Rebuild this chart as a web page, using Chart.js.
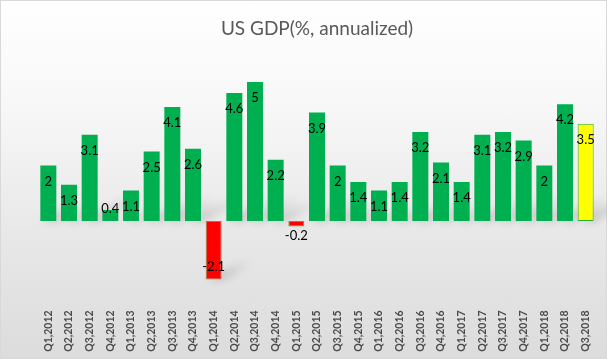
<!DOCTYPE html>
<html>
<head>
<meta charset="utf-8">
<script src="https://cdn.jsdelivr.net/npm/chart.js@4/dist/chart.umd.min.js"></script>
<style>
  html, body { margin: 0; padding: 0; }
  #wrap {
    position: relative; width: 607px; height: 359px; box-sizing: border-box;
    border: 1px solid #d9d9d9;
    background: linear-gradient(to bottom, #ffffff 0%, #f7f7f7 30%, #e8e8e8 65%, #dcdcdc 100%);
  }
  canvas { position: absolute; left: -1px; top: -1px; }
</style>
</head>
<body>
<div id="wrap"><canvas id="c" width="607" height="359"></canvas></div>
<script>
const quarters = ["Q1,2012","Q2,2012","Q3,2012","Q4,2012","Q1,2013","Q2,2013","Q3,2013","Q4,2013",
  "Q1,2014","Q2,2014","Q3,2014","Q4,2014","Q1,2015","Q2,2015","Q3,2015","Q4,2015",
  "Q1,2016","Q2,2016","Q3,2016","Q4,2016","Q1,2017","Q2,2017","Q3,2017","Q4,2017",
  "Q1,2018","Q2,2018","Q3,2018"];
const gdpGrowth = [2, 1.3, 3.1, 0.4, 1.1, 2.5, 4.1, 2.6,
  -2.1, 4.6, 5, 2.2, -0.2, 3.9, 2, 1.4,
  1.1, 1.4, 3.2, 2.1, 1.4, 3.1, 3.2, 2.9,
  2, 4.2, 3.5];
const chartTitle = "US GDP(%, annualized)";

const GREEN = "#00b050", RED = "#ff0000", YELLOW = "#ffff00";
const lastIdx = gdpGrowth.length - 1;
const fillColors = gdpGrowth.map((v, i) => i === lastIdx ? YELLOW : (v < 0 ? RED : GREEN));
const borderColors = gdpGrowth.map((v, i) => i === lastIdx ? "#2eaa3c" : (v < 0 ? "#76923c" : GREEN));
const borderWidths = gdpGrowth.map((v, i) => (i === lastIdx || v < 0) ? 1 : 0);

const shadowPlugin = {
  id: "shadows",
  beforeDatasetsDraw(chart) {
    const ctx = chart.ctx;
    const meta = chart.getDatasetMeta(0);
    ctx.save();
    ctx.filter = "blur(4px)";
    meta.data.forEach((bar, i) => {
      const half = bar.width / 2;
      const bottom = Math.max(bar.y, bar.base);
      const h = Math.abs(bar.base - bar.y);
      const sh = Math.min(h * 0.28, 22);
      const sx = Math.min(h * 0.55, 40);
      const g = ctx.createLinearGradient(0, bottom, 0, bottom - sh);
      g.addColorStop(0, "rgba(0,0,0,0.24)");
      g.addColorStop(1, "rgba(0,0,0,0.02)");
      ctx.fillStyle = g;
      ctx.beginPath();
      ctx.moveTo(bar.x - half + 2, bottom);
      ctx.lineTo(bar.x + half, bottom);
      ctx.lineTo(bar.x + half + sx, bottom - sh);
      ctx.lineTo(bar.x - half + sx + 2, bottom - sh);
      ctx.closePath();
      ctx.fill();
    });
    ctx.restore();
  }
};

const labelPlugin = {
  id: "valueLabels",
  afterDatasetsDraw(chart) {
    const ctx = chart.ctx;
    const meta = chart.getDatasetMeta(0);
    ctx.save();
    ctx.font = "13px Lato";
    ctx.fillStyle = "#000000";
    ctx.textAlign = "center";
    ctx.textBaseline = "middle";
    meta.data.forEach((bar, i) => {
      const v = gdpGrowth[i];
      let y;
      if (v >= 0) y = Math.min(bar.y + 16, bar.base - 12);
      else y = Math.max(bar.y - 13, bar.base + 15);
      ctx.fillText(String(v), bar.x, y);
    });
    ctx.restore();
  }
};

new Chart(document.getElementById("c"), {
  type: "bar",
  data: {
    labels: quarters,
    datasets: [{
      data: gdpGrowth,
      backgroundColor: fillColors,
      borderColor: borderColors,
      borderWidth: borderWidths,
      borderSkipped: false,
      barPercentage: 0.774,
      categoryPercentage: 1
    }]
  },
  options: {
    responsive: false,
    animation: false,
    devicePixelRatio: 1,
    layout: { padding: { left: 38, right: 11, top: 0, bottom: 0 } },
    plugins: {
      legend: { display: false },
      tooltip: { enabled: false },
      title: {
        display: true,
        text: chartTitle,
        color: "#595959",
        font: { family: "Lato", size: 19, weight: "normal", lineHeight: 1.2 },
        padding: { top: 17, bottom: 14.4 }
      }
    },
    scales: {
      x: {
        grid: { display: false, drawTicks: false },
        border: { display: false },
        afterFit(scale) { scale.height = 54.6; },
        ticks: {
          autoSkip: false,
          minRotation: 90, maxRotation: 90,
          padding: 6,
          color: "#4a4a4a",
          font: { family: "Lato", size: 10.5, weight: "bold" }
        }
      },
      y: {
        display: false,
        min: -3, max: 6
      }
    }
  },
  plugins: [shadowPlugin, labelPlugin]
});
</script>
</body>
</html>
